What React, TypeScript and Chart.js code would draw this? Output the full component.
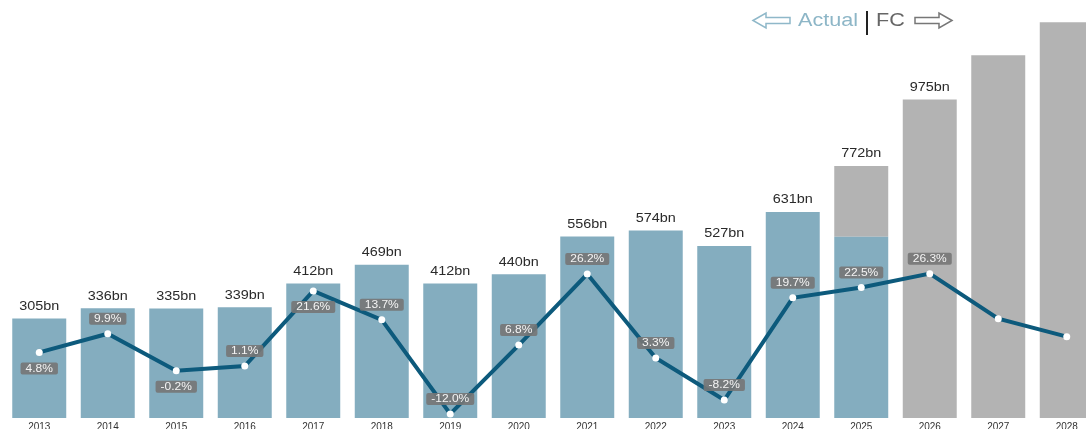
import React, { useEffect, useRef } from "react";
import { Chart, registerables } from "chart.js";

Chart.register(...registerables);

const years = ["2013", "2014", "2015", "2016", "2017", "2018", "2019", "2020", "2021", "2022", "2023", "2024", "2025", "2026", "2027", "2028"];
const totals = [305, 336, 335, 339, 412, 469, 412, 440, 556, 574, 527, 631, 772, 975, 1111, 1212];
const actualValues = [305, 336, 335, 339, 412, 469, 412, 440, 556, 574, 527, 631, 555, null, null, null];
const growth = [4.8, 9.9, -0.2, 1.1, 21.6, 13.7, -12.0, 6.8, 26.2, 3.3, -8.2, 19.7, 22.5, 26.3, 14.0, 9.1];
const valueLabels = ["305bn", "336bn", "335bn", "339bn", "412bn", "469bn", "412bn", "440bn", "556bn", "574bn", "527bn", "631bn", "772bn", "975bn", "", ""];
const growthLabels = ["4.8%", "9.9%", "-0.2%", "1.1%", "21.6%", "13.7%", "-12.0%", "6.8%", "26.2%", "3.3%", "-8.2%", "19.7%", "22.5%", "26.3%", "", ""];
const growthLabelBelow = [true, false, true, false, true, false, false, false, false, false, false, false, false, false, false, false];

const FONT = '"Liberation Sans", Arial, sans-serif';
const SX = 1.2;

function stretchText(ctx: CanvasRenderingContext2D, text: string, x: number, y: number, align: CanvasTextAlign) {
  ctx.save();
  ctx.translate(x, y);
  ctx.scale(SX, 1);
  ctx.textAlign = align;
  ctx.fillText(text, 0, 0);
  ctx.restore();
}

function roundRect(ctx: CanvasRenderingContext2D, x: number, y: number, w: number, h: number, r: number) {
  ctx.beginPath();
  ctx.moveTo(x + r, y);
  ctx.lineTo(x + w - r, y);
  ctx.quadraticCurveTo(x + w, y, x + w, y + r);
  ctx.lineTo(x + w, y + h - r);
  ctx.quadraticCurveTo(x + w, y + h, x + w - r, y + h);
  ctx.lineTo(x + r, y + h);
  ctx.quadraticCurveTo(x, y + h, x, y + h - r);
  ctx.lineTo(x, y + r);
  ctx.quadraticCurveTo(x, y, x + r, y);
  ctx.closePath();
}

function arrow(ctx: CanvasRenderingContext2D, x0: number, x1: number, cy: number, dir: number, color: string) {
  const head = 13;
  const hh = 7.5;
  const sh = 3;
  ctx.save();
  ctx.strokeStyle = color;
  ctx.lineWidth = 1.5;
  ctx.beginPath();
  if (dir < 0) {
    ctx.moveTo(x0, cy);
    ctx.lineTo(x0 + head, cy - hh);
    ctx.lineTo(x0 + head, cy - sh);
    ctx.lineTo(x1, cy - sh);
    ctx.lineTo(x1, cy + sh);
    ctx.lineTo(x0 + head, cy + sh);
    ctx.lineTo(x0 + head, cy + hh);
  } else {
    ctx.moveTo(x1, cy);
    ctx.lineTo(x1 - head, cy - hh);
    ctx.lineTo(x1 - head, cy - sh);
    ctx.lineTo(x0, cy - sh);
    ctx.lineTo(x0, cy + sh);
    ctx.lineTo(x1 - head, cy + sh);
    ctx.lineTo(x1 - head, cy + hh);
  }
  ctx.closePath();
  ctx.stroke();
  ctx.restore();
}

const labelPlugin = {
  id: "labelPlugin",
  afterDatasetsDraw(chart: any) {
    const ctx: CanvasRenderingContext2D = chart.ctx;
    const xs = chart.scales.x;
    const ys = chart.scales.y;
    const y2 = chart.scales.y2;
    ctx.save();
    ctx.fillStyle = "#2a2a2a";
    ctx.font = `12px ${FONT}`;
    ctx.textBaseline = "middle";
    totals.forEach((v, i) => {
      if (!valueLabels[i]) return;
      const x = xs.getPixelForValue(i);
      const y = ys.getPixelForValue(v);
      stretchText(ctx, valueLabels[i], x, y - 12, "center");
    });
    ctx.font = `10px ${FONT}`;
    growth.forEach((g, i) => {
      if (!growthLabels[i]) return;
      const x = xs.getPixelForValue(i);
      const py = y2.getPixelForValue(g);
      const cy = growthLabelBelow[i] ? py + 16 : py - 15;
      const tw = ctx.measureText(growthLabels[i]).width * SX;
      const w = tw + 10;
      const h = 12;
      ctx.fillStyle = "rgba(118,118,118,0.9)";
      roundRect(ctx, x - w / 2, cy - h / 2, w, h, 2);
      ctx.fill();
      ctx.fillStyle = "#f4f4f4";
      stretchText(ctx, growthLabels[i], x, cy + 0.5, "center");
    });
    ctx.restore();
  },
  afterDraw(chart: any) {
    const ctx: CanvasRenderingContext2D = chart.ctx;
    ctx.save();
    arrow(ctx, 753, 790, 20.5, -1, "#8fb8c9");
    ctx.font = `18px ${FONT}`;
    ctx.textBaseline = "middle";
    ctx.fillStyle = "#8db6c7";
    stretchText(ctx, "Actual", 798, 21.5, "left");
    ctx.strokeStyle = "#222";
    ctx.lineWidth = 2;
    ctx.beginPath();
    ctx.moveTo(867, 11);
    ctx.lineTo(867, 35);
    ctx.stroke();
    ctx.fillStyle = "#666";
    stretchText(ctx, "FC", 876, 21.5, "left");
    arrow(ctx, 915, 952, 20.5, 1, "#777");
    ctx.restore();
  },
};

export default function App() {
  const ref = useRef<HTMLCanvasElement | null>(null);
  useEffect(() => {
    document.body.style.margin = "0";
    document.body.style.overflow = "hidden";
    document.documentElement.style.overflow = "hidden";
    if (!ref.current) return;
    const forecastValues = totals.map((t, i) => {
      const a = actualValues[i];
      return i < 12 ? null : t - (a ?? 0);
    });
    const chart = new Chart(ref.current, {
      type: "bar",
      data: {
        labels: years,
        datasets: [
          {
            type: "line",
            label: "Growth",
            data: growth,
            yAxisID: "y2",
            borderColor: "#0d5a7c",
            borderWidth: 4,
            pointRadius: 3.5,
            pointBackgroundColor: "#ffffff",
            pointBorderWidth: 0,
            tension: 0,
            order: 0,
          } as any,
          {
            type: "bar",
            label: "Actual",
            data: actualValues,
            yAxisID: "y",
            backgroundColor: "#84adbf",
            barPercentage: 1,
            categoryPercentage: 0.788,
            order: 1,
          },
          {
            type: "bar",
            label: "Forecast",
            data: forecastValues,
            yAxisID: "y",
            backgroundColor: "#b3b3b3",
            barPercentage: 1,
            categoryPercentage: 0.788,
            order: 1,
          },
        ],
      },
      options: {
        animation: false,
        responsive: false,
        devicePixelRatio: 1,
        layout: { autoPadding: false, padding: { left: 5, right: 0, top: 0, bottom: 0 } },
        plugins: { legend: { display: false }, tooltip: { enabled: false } },
        scales: {
          x: {
            stacked: true,
            grid: { display: false, drawTicks: false },
            border: { display: false },
            ticks: {
              color: "#333",
              font: { size: 10, family: FONT },
              padding: 3,
              autoSkip: false,
              maxRotation: 0,
            },
            afterFit: (scale: any) => {
              scale.height = 16;
            },
          },
          y: {
            stacked: true,
            display: false,
            min: 0,
            max: 1280,
          },
          y2: {
            stacked: false,
            display: false,
            min: -13.1,
            max: 101,
          },
        },
      },
      plugins: [labelPlugin],
    });
    return () => chart.destroy();
  }, []);
  return (
    <div style={{ position: "relative", width: 1101, height: 434 }}>
      <canvas ref={ref} width={1101} height={434} style={{ width: 1101, height: 434, display: "block" }} />
    </div>
  );
}
